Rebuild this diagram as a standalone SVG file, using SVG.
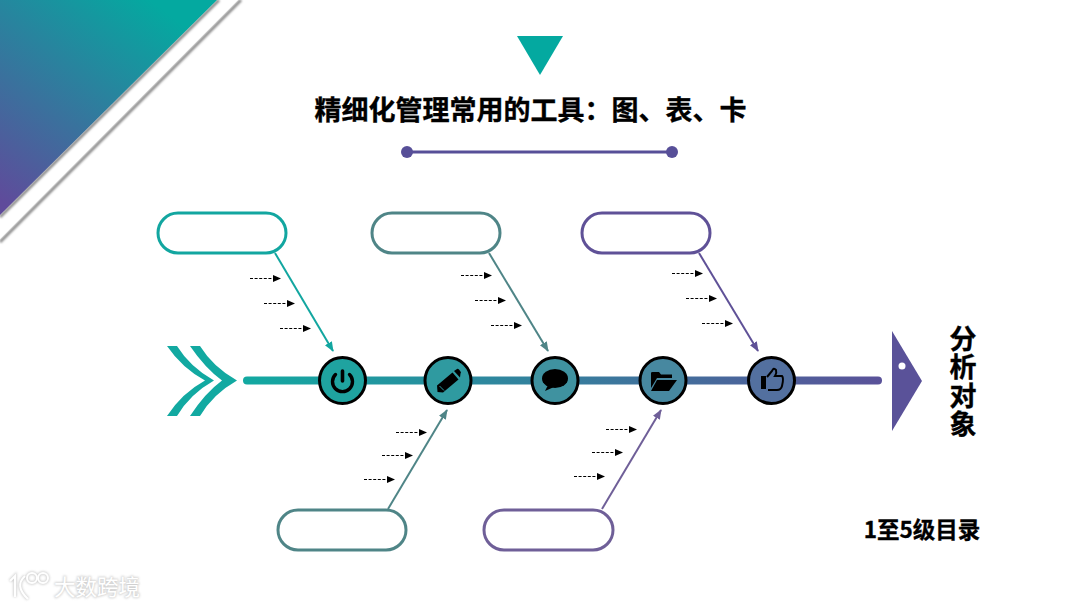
<svg xmlns="http://www.w3.org/2000/svg" width="1080" height="607" viewBox="0 0 1080 607">
<style>
.t{font-family:"Noto Sans CJK SC","Noto Sans",sans-serif;font-weight:700;fill:#000;stroke:#000;stroke-width:.35}
.pill{fill:#fff;stroke-width:3}
.bone{fill:none;stroke-width:2}
.d{fill:none;stroke:#000;stroke-width:1.1;stroke-dasharray:3 1.6}
.c{stroke:#000;stroke-width:3}
.wm{font-family:"Noto Sans CJK SC",sans-serif;font-size:21.500px;text-anchor:middle}
</style>
<defs>
<linearGradient id="corner" gradientUnits="userSpaceOnUse" x1="0" y1="200" x2="150" y2="0"><stop offset="0" stop-color="#5f4b9b"/><stop offset="1" stop-color="#04a9a0"/></linearGradient>
<linearGradient id="spine" gradientUnits="userSpaceOnUse" x1="243" y1="0" x2="882" y2="0"><stop offset="0" stop-color="#12a9a1"/><stop offset="1" stop-color="#5a5299"/></linearGradient>
<filter id="blur" x="-10%" y="-10%" width="120%" height="120%"><feGaussianBlur stdDeviation="1.200"/></filter>
<marker id="mT" markerWidth="12" markerHeight="12" refX="9" refY="4" orient="auto" markerUnits="userSpaceOnUse"><path d="M0 0L10 4L0 8Z" fill="#12a6a0"/></marker>
<marker id="mG" markerWidth="12" markerHeight="12" refX="9" refY="4" orient="auto" markerUnits="userSpaceOnUse"><path d="M0 0L10 4L0 8Z" fill="#4f8587"/></marker>
<marker id="mP" markerWidth="12" markerHeight="12" refX="9" refY="4" orient="auto" markerUnits="userSpaceOnUse"><path d="M0 0L10 4L0 8Z" fill="#5f5197"/></marker>
<marker id="mV" markerWidth="12" markerHeight="12" refX="9" refY="4" orient="auto" markerUnits="userSpaceOnUse"><path d="M0 0L10 4L0 8Z" fill="#6f5f98"/></marker>
<marker id="mK" markerWidth="9" markerHeight="8" refX="7" refY="3.5" orient="auto" markerUnits="userSpaceOnUse"><path d="M0 0L8 3.500L0 7Z" fill="#000"/></marker>
</defs>
<rect width="1080" height="607" fill="#fff"/>

<g id="corner-decoration">
<path d="M218 0L239 0L0 240L0 217Z" fill="#fff"/>
<path d="M241 0L0 242" stroke="#888" stroke-width="3" filter="url(#blur)" fill="none"/>
<path d="M238 0L0 239L0 216L218 0Z" fill="#fff"/>
<path d="M219 0L0 217" stroke="#888" stroke-width="3" filter="url(#blur)" fill="none"/>
<path d="M217 0L0 215L0 0Z" fill="url(#corner)"/>
</g>

<g id="title">
<path d="M517 36H563L540 75Z" fill="#04a9a0"/>
<text class="t" x="530.500" y="120" font-size="27" text-anchor="middle">精细化管理常用的工具&#xFF1A;图、表、卡</text>
<line x1="407" y1="152" x2="672" y2="152" stroke="#574f98" stroke-width="3"/>
<circle cx="407" cy="152" r="6" fill="#574f98"/>
<circle cx="672" cy="152" r="6" fill="#574f98"/>
</g>

<g id="connectors">
<line x1="247" y1="380.500" x2="878" y2="380.500" stroke="url(#spine)" stroke-width="8" stroke-linecap="round"/>
<line class="bone" x1="275" y1="253" x2="333" y2="351" stroke="#12a6a0" marker-end="url(#mT)"/>
<line class="bone" x1="489" y1="253" x2="548" y2="351" stroke="#4f8587" marker-end="url(#mG)"/>
<line class="bone" x1="699" y1="253" x2="758" y2="351" stroke="#5f5197" marker-end="url(#mP)"/>
<line class="bone" x1="388" y1="509" x2="447" y2="410" stroke="#4f8587" marker-end="url(#mG)"/>
<line class="bone" x1="602" y1="509" x2="661" y2="410" stroke="#6f5f98" marker-end="url(#mV)"/>
<line class="d" x1="250" y1="278.500" x2="280" y2="278.500" marker-end="url(#mK)"/>
<line class="d" x1="264" y1="303.500" x2="294" y2="303.500" marker-end="url(#mK)"/>
<line class="d" x1="280" y1="328.500" x2="310" y2="328.500" marker-end="url(#mK)"/>
<line class="d" x1="461" y1="275.500" x2="491" y2="275.500" marker-end="url(#mK)"/>
<line class="d" x1="475" y1="300.500" x2="505" y2="300.500" marker-end="url(#mK)"/>
<line class="d" x1="491" y1="325.500" x2="521" y2="325.500" marker-end="url(#mK)"/>
<line class="d" x1="672" y1="273.500" x2="702" y2="273.500" marker-end="url(#mK)"/>
<line class="d" x1="686" y1="298.500" x2="716" y2="298.500" marker-end="url(#mK)"/>
<line class="d" x1="702" y1="323.500" x2="732" y2="323.500" marker-end="url(#mK)"/>
<line class="d" x1="396" y1="432.500" x2="426" y2="432.500" marker-end="url(#mK)"/>
<line class="d" x1="382" y1="455.500" x2="412" y2="455.500" marker-end="url(#mK)"/>
<line class="d" x1="364" y1="479.500" x2="394" y2="479.500" marker-end="url(#mK)"/>
<line class="d" x1="606" y1="429.500" x2="636" y2="429.500" marker-end="url(#mK)"/>
<line class="d" x1="592" y1="452.500" x2="622" y2="452.500" marker-end="url(#mK)"/>
<line class="d" x1="574" y1="476.500" x2="604" y2="476.500" marker-end="url(#mK)"/>
</g>

<g id="tail">
<path d="M167 346H177Q190 367 214 380.500Q190 394 177 416H167Q182 393 205 380.500Q182 368 167 346Z" fill="#12a9a1"/>
<path d="M190 346H200Q213 367 237 380.500Q213 394 200 416H190Q205 393 222 380.500Q205 368 190 346Z" fill="#12a9a1"/>
</g>

<g id="head">
<path d="M892 331L922 381L892 431Z" fill="#5a5299"/>
<circle cx="902" cy="366" r="3.500" fill="#fff"/>
</g>

<g id="pill-1"><rect class="pill" x="158" y="213" width="128" height="40" rx="20" stroke="#12a6a0"/></g>
<g id="pill-2"><rect class="pill" x="372" y="213" width="128" height="40" rx="20" stroke="#4f8587"/></g>
<g id="pill-3"><rect class="pill" x="582" y="213" width="128" height="40" rx="20" stroke="#5f5197"/></g>
<g id="pill-4"><rect class="pill" x="278" y="510" width="128" height="40" rx="20" stroke="#4f8587"/></g>
<g id="pill-5"><rect class="pill" x="484" y="510" width="129" height="40" rx="20" stroke="#6f5f98"/></g>

<g id="node-power">
<circle class="c" cx="342.500" cy="380.500" r="23" fill="#1fa3a0"/>
<path d="M335.500 374.500A10 10 0 1 0 349.500 374.500" fill="none" stroke="#000" stroke-width="3.400" stroke-linecap="round"/>
<line x1="342.500" y1="371" x2="342.500" y2="381" stroke="#000" stroke-width="3.600" stroke-linecap="round"/>
</g>
<g id="node-pencil">
<circle class="c" cx="448" cy="380.500" r="23" fill="#2f9aa0"/>
<path d="M437 385.500L452.500 372.500L458.500 379.500L443 392.500L437.500 392Z" fill="#000"/>
<path d="M454 371L457 369Q458 368.500 459 369.500L460.500 371.500Q461.500 372.500 460.500 373.500L460 377.500Z" fill="#000"/>
<path d="M439.500 386L444 390.500" stroke="#2f9aa0" stroke-width="1" fill="none"/>
</g>
<g id="node-chat">
<circle class="c" cx="555" cy="380.500" r="23" fill="#3f92a0"/>
<ellipse cx="555" cy="378.500" rx="13" ry="9.500" fill="#000"/>
<path d="M548 385L545 391L554 387Z" fill="#000"/>
</g>
<g id="node-folder">
<circle class="c" cx="663" cy="380.500" r="23" fill="#4788a0"/>
<path d="M651 388V373Q651 372 652.500 372H659L661 374.500H672V378H657Z" fill="#000"/>
<path d="M657 380H677L669 391H651Z" fill="#000"/>
</g>
<g id="node-thumb">
<circle class="c" cx="771.500" cy="380.500" r="23" fill="#53709f"/>
<path d="M761 376H766V389H761Z" fill="#000"/>
<path d="M767 377L772 371Q773.500 367 776 370Q777 373 775 376H782Q784 378 782 386Q781 390 777 390H768" fill="none" stroke="#000" stroke-width="2"/>
</g>

<g id="label-right">
<text class="t" x="963" y="325" font-size="27" letter-spacing="1.500" style="writing-mode:vertical-rl">分析对象</text>
<text class="t" x="922" y="538" font-size="22.500" text-anchor="middle">1至5级目录</text>
</g>

<g id="watermark">
<g fill="none" stroke="#aaa" stroke-width="3.500" filter="url(#blur)" opacity=".55">
<path d="M10 581L15 576V597M25 576Q14 586 28 599"/>
<circle cx="32" cy="578" r="5"/><circle cx="43" cy="578" r="5"/>
<text class="wm" x="97" y="595" fill="#aaa" stroke="#aaa" stroke-width="1.500">大数跨境</text>
</g>
<g fill="none" stroke="#fff" stroke-width="2">
<path d="M10 581L15 576V597M25 576Q14 586 28 599"/>
<circle cx="32" cy="578" r="5"/><circle cx="43" cy="578" r="5"/>
</g>
<text class="wm" x="97" y="595" fill="#fff">大数跨境</text>
</g>
</svg>
